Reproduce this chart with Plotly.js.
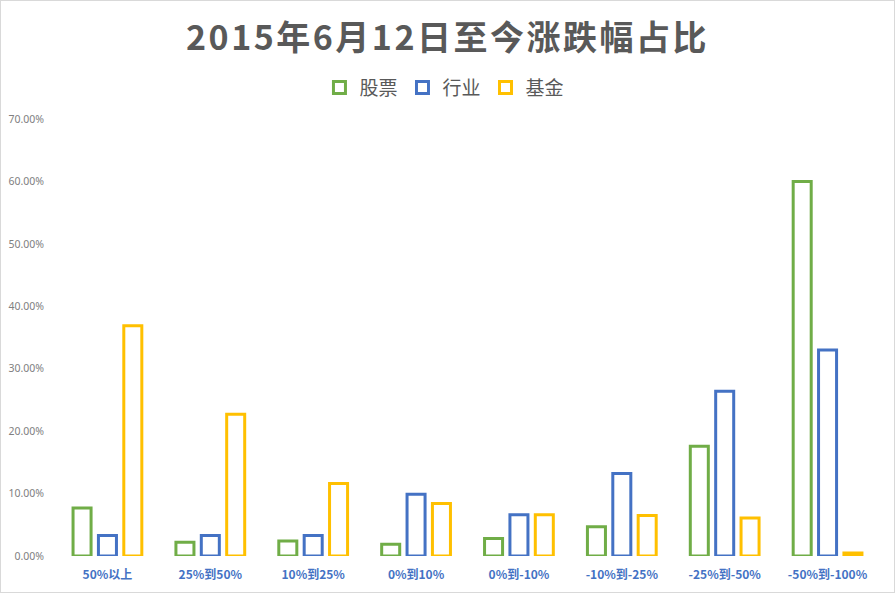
<!DOCTYPE html>
<html>
<head>
<meta charset="utf-8">
<script src="https://cdn.plot.ly/plotly-3.0.1.min.js"></script>
<style>
html,body{margin:0;padding:0;background:#fff;}
#chart{width:893px;height:591px;border:1px solid #d9d9d9;}
#chart .gtitle{letter-spacing:2.5px;}
</style>
</head>
<body>
<div id="chart"></div>
<script>
var categories = ["50%以上", "25%到50%", "10%到25%", "0%到10%", "0%到-10%", "-10%到-25%", "-25%到-50%", "-50%到-100%"];
var stocks     = [0.077, 0.022, 0.024, 0.019, 0.028, 0.047, 0.176, 0.600];
var industries = [0.033, 0.033, 0.033, 0.099, 0.066, 0.132, 0.264, 0.330];
var funds      = [0.369, 0.227, 0.116, 0.084, 0.066, 0.065, 0.061, 0.005];
var seriesNames = ["股票", "行业", "基金"];
var colors = ["#70AD47", "#4472C4", "#FFC000"];

var fontFam = '"Noto Sans CJK SC", "Noto Sans", sans-serif';
var allSeries = [stocks, industries, funds];
var traces = allSeries.map(function(vals, i){
  return {
    type: 'bar',
    name: seriesNames[i],
    x: categories,
    y: vals,
    marker: {color: '#ffffff', line: {color: colors[i], width: 3}},
    hoverinfo: 'x+y+name'
  };
});

var layout = {
  width: 893, height: 591,
  paper_bgcolor: '#ffffff', plot_bgcolor: '#ffffff',
  margin: {l: 55, r: 15, t: 118, b: 36},
  barmode: 'group',
  bargap: 0.26,
  bargroupgap: 0.29,
  title: {
    text: '<b>2015年6月12日至今涨跌幅占比</b>',
    font: {family: fontFam, size: 34, color: '#595959'},
    x: 0.5, xanchor: 'center', xref: 'container',
    y: 0.937, yanchor: 'middle', yref: 'container'
  },
  showlegend: true,
  legend: {
    orientation: 'h', x: 0.472, xanchor: 'center', y: 1.072, yanchor: 'middle',
    font: {family: fontFam, size: 19, color: '#595959'},
    itemwidth: 30, traceorder: 'normal'
  },
  xaxis: {
    type: 'category',
    showgrid: false, zeroline: false, showline: false,
    ticks: '',
    tickfont: {family: fontFam, size: 12, color: '#4472C4', weight: 'bold'},
    ticklabelstandoff: 10
  },
  yaxis: {
    range: [0, 0.70],
    dtick: 0.10, tick0: 0,
    tickformat: '.2%',
    showgrid: false, zeroline: false, showline: false,
    ticks: '',
    ticklabelstandoff: 11,
    tickfont: {family: '"Noto Sans", sans-serif', size: 10.5, color: '#808080'}
  }
};

Plotly.newPlot('chart', traces, layout, {displayModeBar: false, responsive: false});
</script>
</body>
</html>
